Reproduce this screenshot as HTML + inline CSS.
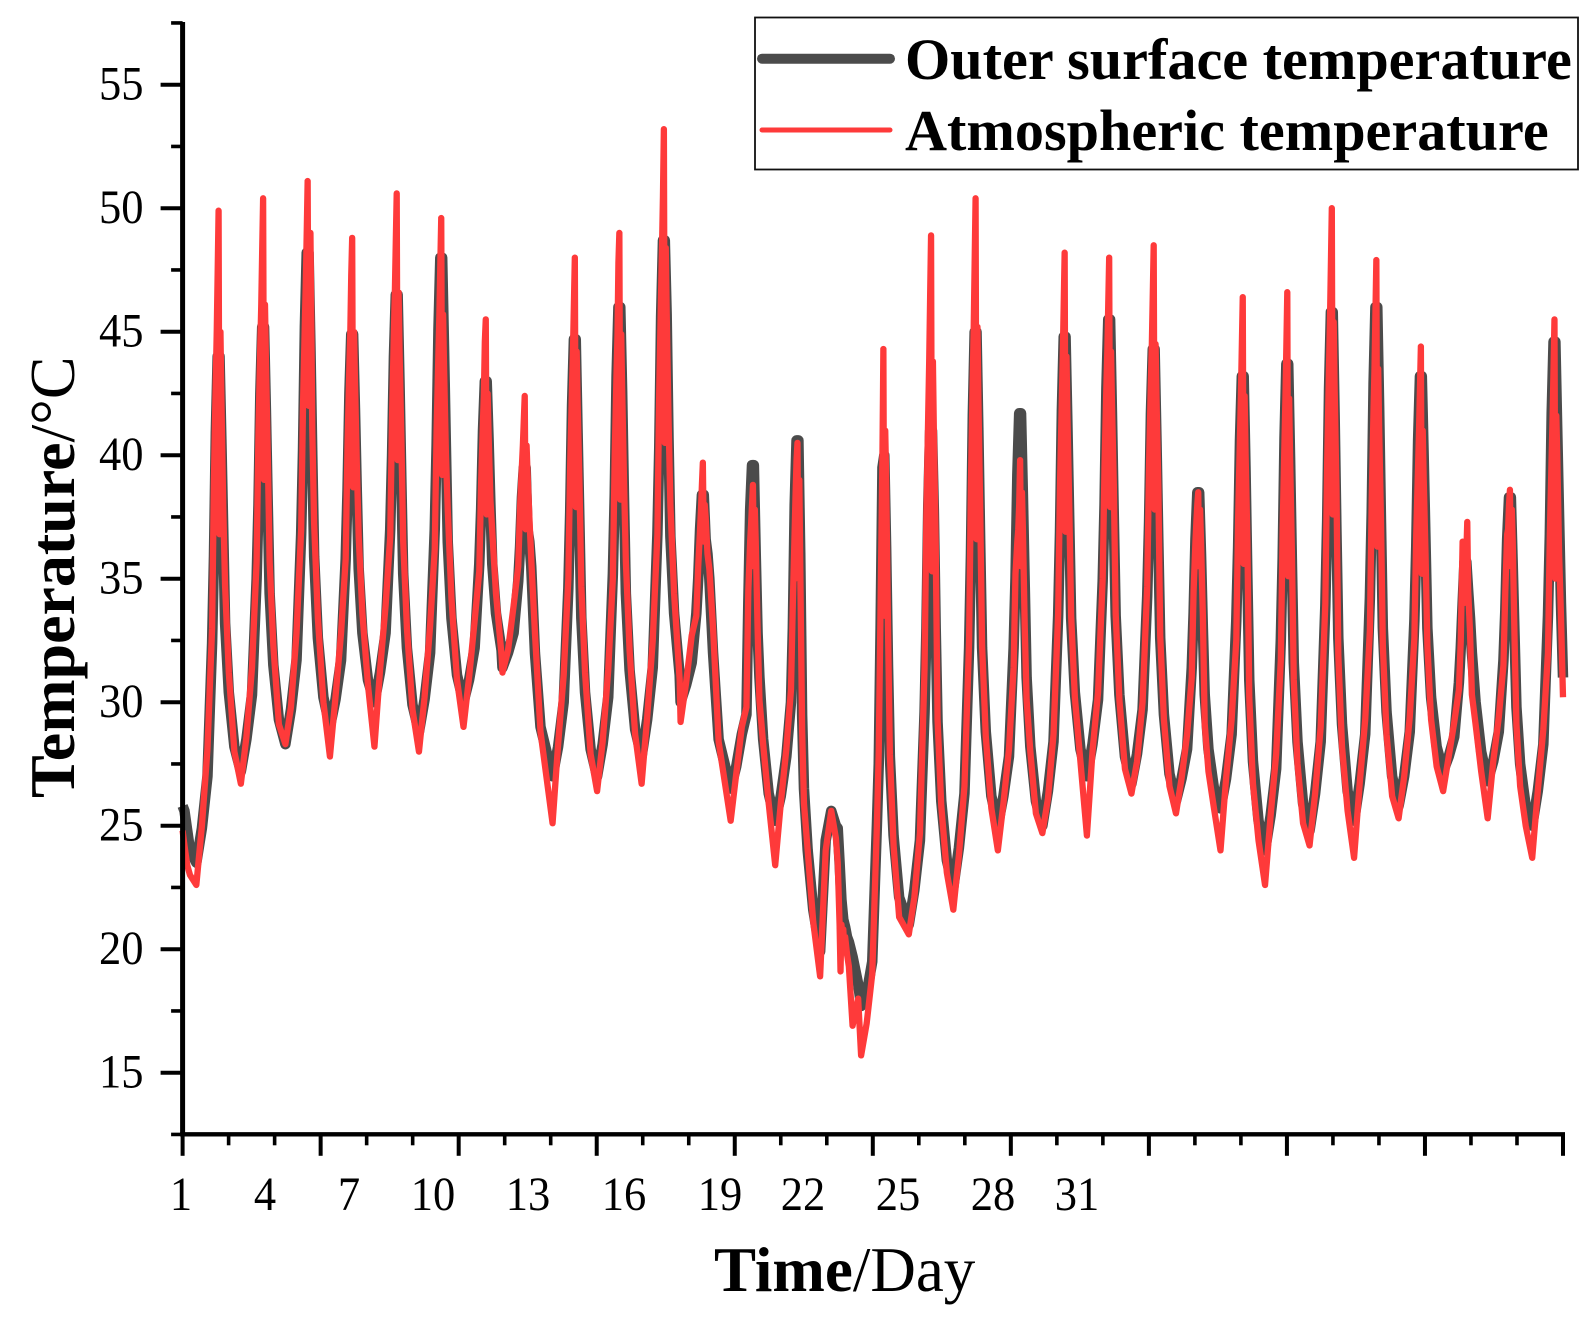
<!DOCTYPE html>
<html lang="en">
<head>
<meta charset="utf-8">
<title>Outer surface and atmospheric temperature</title>
<style>
html,body{margin:0;padding:0;background:#fff;}
svg{display:block;font-family:"Liberation Serif",serif;}
</style>
</head>
<body>
<svg id="chart" xmlns="http://www.w3.org/2000/svg" width="1594" height="1325" viewBox="0 0 1594 1325">
  <rect x="0" y="0" width="1594" height="1325" fill="#fff"/>
  <g id="series"></g>
  <g id="axes" stroke="#000" fill="none"></g>
  <g id="yLabels" font-size="44.5" text-anchor="end" fill="#000"></g>
  <g font-size="44.5" text-anchor="middle" fill="#000">
    <text transform="translate(181,1210) scale(1,1.07)">1</text>
    <text transform="translate(265,1210) scale(1,1.07)">4</text>
    <text transform="translate(349,1210) scale(1,1.07)">7</text>
    <text transform="translate(433,1210) scale(1,1.07)">10</text>
    <text transform="translate(528,1210) scale(1,1.07)">13</text>
    <text transform="translate(624,1210) scale(1,1.07)">16</text>
    <text transform="translate(720,1210) scale(1,1.07)">19</text>
    <text transform="translate(803,1210) scale(1,1.07)">22</text>
    <text transform="translate(898,1210) scale(1,1.07)">25</text>
    <text transform="translate(993,1210) scale(1,1.07)">28</text>
    <text transform="translate(1077,1210) scale(1,1.07)">31</text>
  </g>
  <text x="714" y="1291" font-size="63" fill="#000"><tspan font-weight="bold">Time</tspan>/Day</text>
  <text transform="translate(74,798) rotate(-90)" font-size="64" fill="#000"><tspan font-weight="bold">Temperature</tspan>/°C</text>
  <g>
    <rect x="755" y="17.5" width="823" height="152" fill="#fff" stroke="#111" stroke-width="1.8"/>
    <line x1="762" y1="58.7" x2="890" y2="58.7" stroke="#4b4b4b" stroke-width="10" stroke-linecap="round"/>
    <text x="905" y="79" font-size="58.2" font-weight="bold" fill="#000">Outer surface temperature</text>
    <line x1="762" y1="130" x2="890" y2="130" stroke="#fe3a3a" stroke-width="5" stroke-linecap="round"/>
    <text x="905" y="150" font-size="58.2" font-weight="bold" fill="#000">Atmospheric temperature</text>
  </g>
</svg>
<script>
// Axis data
const yMajorTicks = [15, 20, 25, 30, 35, 40, 45, 50, 55];
const yMinorTicks = [12.5, 17.5, 22.5, 27.5, 32.5, 37.5, 42.5, 47.5, 52.5, 57.5];
const xMajorTicks = [0, 74.4, 148.8, 223.2, 297.6, 372, 446.4, 520.8, 595.2, 669.6, 744];
const xMinorTicks = [24.8, 49.6, 99.2, 124, 173.6, 198.4, 248, 272.8, 322.4, 347.2, 396.8, 421.6, 471.2, 496, 545.6, 570.4, 620, 644.8, 694.4, 719.2];

// Hours at which each daily record begins
const dayStartHours = [7.4, 31.4, 55.4, 79.4, 103.4, 127.4, 151.4, 172.4, 199.4, 223.4, 247.4, 268.4, 295.4, 319.4, 343.6, 365.7, 391.4, 415.4, 439.4, 463.4, 487.4, 511.4, 535.4, 559.4, 583.4, 607.4, 631.4, 655.4, 679.4, 703.4, 727.4];
const outerHourOffsets = [0, 3, 6, 8.5, 9.5, 10.5, 11.5, 12.5, 13.5, 14.5, 15.5, 17.5, 20.5];
const atmosHourOffsets = [0, 3, 6, 8.5, 9.5, 10.5, 11, 11.5, 12, 12.5, 13, 13.5, 14.5, 15.5, 17.5, 20.5];

// Samples before the first record and after the last one
const leadHours = [0, 1, 2.5, 4];
const outerLead = [25.8, 25.6, 24.8, 24];
const atmosLead = [24.8, 24.2, 23.4, 23];
const endHours = [744];
const outerEnd = [31];
const atmosEnd = [30.2];

// Outer surface temperature, one row per day
const outerValues = [
[23.5,24.9,27,32.4,35.9,40.9,44,44,40.6,37,33.2,30.4,28.2],
[27.2,28.5,30.3,35,38,42.5,45.2,45.2,41.8,38,34.4,31.5,29.3],
[28.3,29.7,31.7,36.8,40.2,45.2,48.2,48.2,44.4,40,35.9,32.6,30.2],
[29,30.1,31.7,35.8,38.6,42.5,44.9,44.9,41.9,38.5,35.4,32.8,30.9],
[30,31.2,32.8,37,40,44,46.5,46.5,43,39,35.2,32.2,29.9],
[28.8,30.1,32,37,40.4,45.1,48,48,44.4,40.4,36.5,33.4,31.1],
[30,30.9,32.2,35.6,37.8,41,43,43,40.7,38,35.6,33.6,32.1],
[31.4,32,32.8,34.9,36.3,38.3,39.5,39.5,37,36.5,35.5,32,29],
[27,28.2,30,34.6,37.7,42,44.7,44.7,40.9,37.2,33.4,30.4,28.1],
[27,28.3,30.2,35.2,38.4,43.2,46,46,42.6,38.3,34.4,31.3,28.9],
[27.8,29.3,31.4,36.8,40.3,45.6,48.7,48.7,45.7,40.7,36.7,33.6,31.1],
[30,30.7,31.6,33.6,35,37,38.4,38.4,36.6,36,35,32,28.5],
[26.5,27.4,28.7,29.5,34,37.8,39.6,39.6,36,32.8,31,28.5,26.3],
[25.2,26.2,27.8,30,33,38,40.6,40.6,36,29.5,26.5,24,21.6],
[19.9,24.4,25.6,25,24.9,23.5,22,21.2,20.9,20.5,20.3,19.7,18.6],
[17.7,18.2,19.5,25,27.5,33,39.5,40,36.2,31.5,27.8,24.6,22.1],
[21,22.4,24.4,29.6,33,38,41,41,37.8,33,29.2,26,23.6],
[22.5,24.1,26.3,32.2,36,41.6,45,45,41,36.4,32.2,28.8,26.2],
[25,26.2,27.8,32.2,35,39.2,41.7,41.7,38.4,34.7,31,28.2,26],
[25,26.4,28.4,33.5,36.9,41.8,44.8,44.8,41.2,37.3,33.4,30.4,28.1],
[27,28.3,30.1,34.9,38,42.7,45.5,45.5,41.7,37.5,33.5,30.3,27.8],
[26.7,27.9,29.7,34.3,37.3,41.7,44.3,44.3,40.6,36.5,32.6,29.5,27.1],
[26,26.9,28.1,31.4,33.6,36.6,38.5,38.5,36,33,30.3,28.1,26.5],
[25.7,26.9,28.7,33.3,36.3,40.6,43.2,43.2,39.4,35,30.9,27.6,25.2],
[24,25.4,27.3,32.5,35.8,40.7,43.7,43.7,39.9,35.6,31.6,28.4,25.9],
[24.8,26.3,28.4,33.9,37.4,42.7,45.8,45.8,41.7,36.9,32.6,29.1,26.4],
[25.2,26.7,28.7,34.2,37.7,42.9,46,46,42,37.3,33,29.6,27],
[25.8,27,28.8,33.3,36.3,40.6,43.2,43.2,40,36.5,33,30.2,28.2],
[27.2,27.8,28.6,30.8,32.2,34,35.7,35.7,34.5,33.4,32,30,28],
[26.8,27.6,28.8,31.7,33.7,36.6,38.3,38.3,35.6,32.7,29.8,27.5,25.8],
[25,26.4,28.3,33.5,36.8,41.7,44.6,44.6,41,37.5,34]
];

// Atmospheric temperature, one row per day
const atmosValues = [
[22.6,25,28.1,33,39,43.1,45,47.4,49.9,36.8,45,42.3,37.9,34.7,31.2,28],
[26.7,28.6,31.4,35.7,40.9,44.5,46.1,48.3,50.4,39,46.1,43.8,40,35.7,32.3,29.1],
[28.3,29.8,32.8,37,42,45.4,47,49,51.1,42,47,49,41,37.2,33.4,30],
[27.8,30.2,32.8,35.8,40.4,43.6,45,47.3,48.8,38.7,45,43,39.6,36.7,33.6,30.7],
[28.2,31.3,33.9,36.7,41.6,45,46.6,48.6,50.6,39.8,46.6,44.3,40.7,36.5,33,29.7],
[28,30.2,33.1,36.2,41,44.2,45.7,47.7,49.6,39.2,45.7,43.6,40.1,37.8,34.2,30.9],
[29,31,33.3,35.3,38.9,41.4,42.5,44.6,45.5,37.6,42.5,40.9,38.2,36.9,34.4,31.9],
[31.2,32.1,33.9,35.5,37.9,39.6,40.4,41.4,42.4,37,40.4,39.3,37.5,35.8,32.8,28.8],
[25.1,28.3,31.1,35,39.6,42.8,44.2,46.1,48,37.9,44.2,42.1,38.8,34.7,31.2,27.9],
[26.4,28.4,31.3,35,40,43.4,44.9,47.8,49,38.2,44.9,42.7,39,35.7,32.1,28.7],
[26.7,29.4,32.5,36.8,42.6,46.6,48.4,50.5,53.2,40.5,48.4,45.8,41.5,38,34.4,30.9],
[29.2,30.8,32.7,33.5,35.5,37,37.8,38.8,39.7,36.5,38,37.5,36,35.4,33,28.4],
[25.2,27.1,29,29.8,34.5,36.5,37.2,38,38.8,35.5,37.8,36.5,33,30.1,28.3,25.9],
[23.4,25.9,28.1,30.5,34,37,38.5,39.8,40.5,35,39,35.5,28.9,25.9,24,21.1],
[18.9,24,25.6,24.5,23.5,21,19.1,21,20.5,20.8,20,20.5,19.8,19.3,16.9,18],
[15.7,17,19,25,28,34,37,40,44.3,33.5,41,39,33,27.9,24.2,21.3],
[20.6,22.1,24.7,31.4,37.6,41.8,43.8,46.4,48.9,35.3,43.8,41,36.4,29.3,25.8,23.1],
[21.6,23.8,26.6,32.5,38.9,43.2,45.2,47.8,50.4,36.6,45.2,42.3,37.7,32.3,28.6,25.7],
[24,25.9,28.1,31.4,35.2,36.5,37,38,39.8,35.5,38.5,37,33,30.1,28,25.5],
[24.7,26.1,28.7,33.6,38.8,42.3,44,46.1,48.2,36.9,44,41.6,37.9,33.5,30.2,27.6],
[24.6,28,30.4,35,39.6,42.8,44.2,46.1,48,37.9,44.2,42.1,38.8,33.6,30.1,27.3],
[26.3,27.6,30,34.7,39.6,43,44.5,46.5,48.5,37.8,44.5,42.3,38.7,32.7,29.3,26.6],
[25.5,26.9,28.7,31,34.5,36.5,37.3,38,38.5,35.5,37.8,36.5,33.5,29.1,27.2,25.7],
[24,26.9,29.3,32.5,37.4,40.8,42.4,44.4,46.4,35.6,42.4,40.1,36.5,30.2,26.7,24.4],
[22.6,25.4,27.9,31.7,37,40.6,42.3,44.4,46.6,35.1,42.3,39.9,36,30.9,27.5,25.1],
[24.2,26.3,29,34,39.7,43.6,45.4,47.7,50,37.6,45.4,42.8,38.6,31.9,28.2,25.6],
[23.7,26.7,29.3,32.9,38.2,41.9,43.5,45.7,47.9,36.3,43.5,41.1,37.3,32.3,28.7,26.2],
[25.3,27,29.4,32.6,36.8,39.6,41,42.7,44.4,35.2,41,39.1,36,32.3,29.3,27.4],
[26.4,27.8,29.2,30.5,32.5,36.5,34,35,34.5,36,37.3,34.5,32.8,30.3,29.1,27.2],
[25.3,27.6,29.4,31.5,34.5,36.8,37,38,38.6,35.5,37.8,36.5,32.5,29.1,26.6,25],
[23.7,26.4,28.9,32,36.8,40,41.6,43.5,45.5,35,41.6,40,36,33.5]
];

// Axis functions
const SVG_NS = 'http://www.w3.org/2000/svg';
function xPos(hour) { return 182.6 + hour * (1380.4 / 744); }
function yPos(temp) { return 1072.7 - (temp - 15) * 24.7; }

function buildPath(lead, leadValues, offsets, rows, end, endValues) {
  const pts = [];
  lead.forEach(function (h, i) { pts.push([h, leadValues[i]]); });
  rows.forEach(function (row, d) {
    row.forEach(function (v, j) { pts.push([dayStartHours[d] + offsets[j], v]); });
  });
  end.forEach(function (h, i) { pts.push([h, endValues[i]]); });
  return pts.map(function (p, i) {
    return (i ? 'L' : 'M') + xPos(p[0]).toFixed(2) + ' ' + yPos(p[1]).toFixed(2);
  }).join(' ');
}

const seriesGroup = document.getElementById('series');

const outerPath = document.createElementNS(SVG_NS, 'path');


outerPath.setAttribute('d', buildPath(leadHours, outerLead, outerHourOffsets, outerValues, endHours, outerEnd));
outerPath.setAttribute('fill', 'none');
outerPath.setAttribute('stroke', '#4b4b4b');
outerPath.setAttribute('stroke-width', '10.5');
outerPath.setAttribute('stroke-linejoin', 'round');
seriesGroup.appendChild(outerPath);

const atmosPath = document.createElementNS(SVG_NS, 'path');


atmosPath.setAttribute('d', buildPath(leadHours, atmosLead, atmosHourOffsets, atmosValues, endHours, atmosEnd));
atmosPath.setAttribute('fill', 'none');
atmosPath.setAttribute('stroke', '#fe3a3a');
atmosPath.setAttribute('stroke-width', '6.3');
atmosPath.setAttribute('stroke-linejoin', 'round');
seriesGroup.appendChild(atmosPath);

// Axes and ticks
const axesGroup = document.getElementById('axes');
function addLine(x1, y1, x2, y2, width, name) {
  const ln = document.createElementNS(SVG_NS, 'line');
  ln.setAttribute('x1', x1);
  ln.setAttribute('y1', y1);
  ln.setAttribute('x2', x2);
  ln.setAttribute('y2', y2);
  ln.setAttribute('stroke-width', width);
  
  
  axesGroup.appendChild(ln);
}
const axisLeft = xPos(0);
const axisBottom = 1134.3;
addLine(axisLeft, 22, axisLeft, axisBottom + 2, 5, 'y-axis-line');
addLine(axisLeft - 2.5, axisBottom, xPos(744) + 2, axisBottom, 4.4, 'x-axis-line');
yMajorTicks.forEach(function (t) {
  addLine(axisLeft - 22, yPos(t), axisLeft, yPos(t), 4, 'y-major-tick');
});
yMinorTicks.forEach(function (t) {
  addLine(axisLeft - 11.5, yPos(t), axisLeft, yPos(t), 3.6, 'y-minor-tick');
});
xMajorTicks.forEach(function (h) {
  addLine(xPos(h), axisBottom, xPos(h), axisBottom + 21.5, 4, 'x-major-tick');
});
xMinorTicks.forEach(function (h) {
  addLine(xPos(h), axisBottom, xPos(h), axisBottom + 11, 3.6, 'x-minor-tick');
});

const yLabelGroup = document.getElementById('yLabels');
yMajorTicks.forEach(function (t) {
  const label = document.createElementNS(SVG_NS, 'text');
  label.setAttribute('transform', 'translate(143.5,' + (yPos(t) + 15) + ') scale(1,1.07)');
  
  
  label.textContent = t;
  yLabelGroup.appendChild(label);
});
</script>
</body>
</html>
